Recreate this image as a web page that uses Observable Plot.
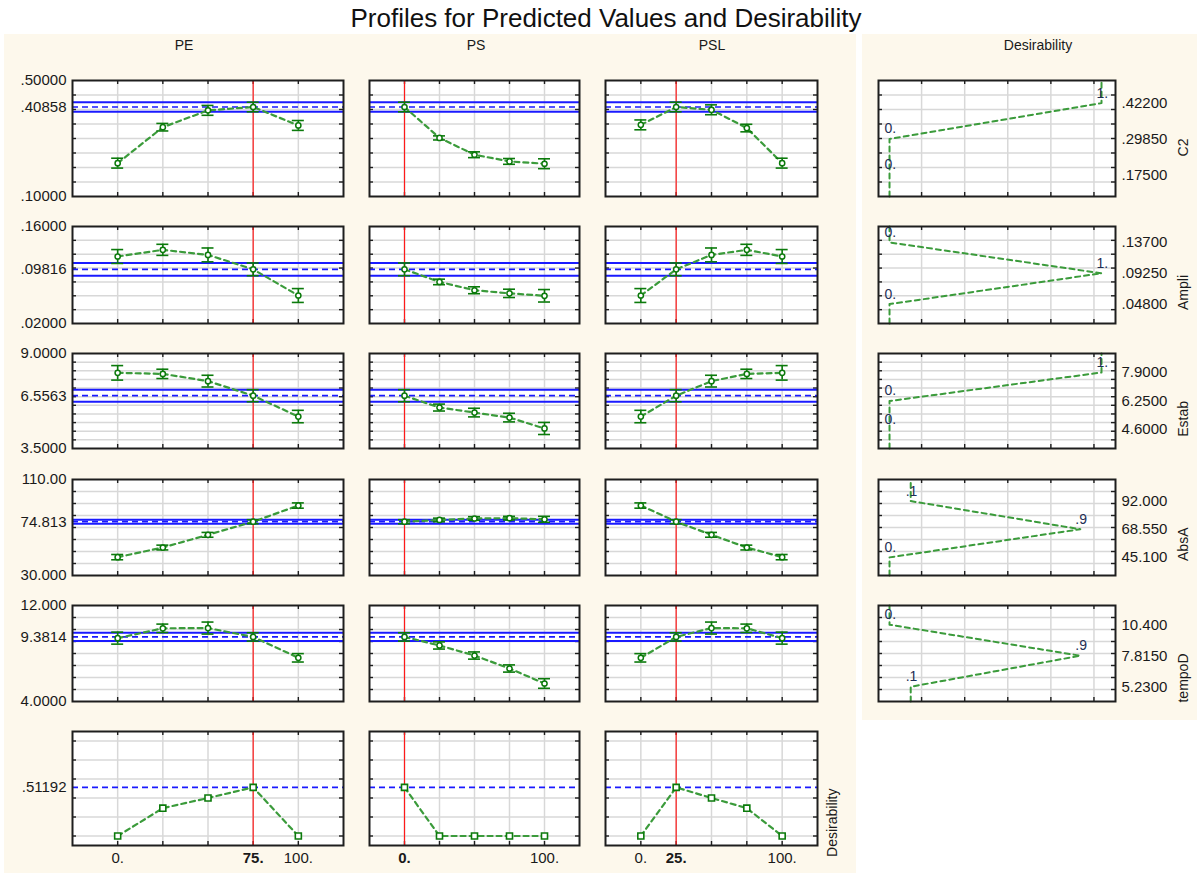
<!DOCTYPE html>
<html>
<head>
<meta charset="utf-8">
<script src="https://cdn.jsdelivr.net/npm/d3@7"></script>
<script src="https://cdn.jsdelivr.net/npm/@observablehq/plot@0.6"></script>
<style>
  body { margin: 0; background: #ffffff; font-family: Arial, "Liberation Sans", sans-serif; }
  #chart { position: relative; width: 1202px; height: 875px; overflow: hidden; background: #ffffff; }
  .bg { position: absolute; background: #fdf8ec; }
  .lbl { position: absolute; white-space: nowrap; color: #1a1a1a; transform: translate(-50%, -50%); }
</style>
</head>
<body>
<div id="chart"></div>
<script>
// ---- factors (mixture components) and their settings ----
const factors = ["PE", "PS", "PSL"];
const levels = [0, 25, 50, 75, 100];
const current = [75, 0, 25];

// ---- responses ----
const responses = ["C2", "Ampli", "Estab", "AbsA", "tempoD"];
const yMin = [0.1, 0.02, 3.5, 30, 4];
const yMax = [0.5, 0.16, 9, 110, 12];
const yStep = [0.05, 0.02, 0.5, 10, 1];
const predicted = [0.40858, 0.09816, 6.5563, 74.813, 9.3814];
const ciHalf = [0.0165, 0.0092, 0.35, 1.7, 0.35];

// predicted response at each level, one row per response
const predPE = [
  [0.215, 0.339, 0.397, 0.40858, 0.345],
  [0.1167, 0.1263, 0.119, 0.09816, 0.0604],
  [7.88, 7.82, 7.40, 6.5563, 5.35],
  [45.3, 53.3, 63.9, 74.813, 88.3],
  [9.28, 10.1, 10.12, 9.3814, 7.64]
];
const predPS = [
  [0.40858, 0.302, 0.244, 0.221, 0.213],
  [0.09816, 0.080, 0.068, 0.0635, 0.060],
  [6.5563, 5.87, 5.58, 5.29, 4.66],
  [74.813, 76.3, 77.5, 77.8, 76.8],
  [9.3814, 8.67, 7.83, 6.75, 5.5]
];
const predPSL = [
  [0.347, 0.40858, 0.399, 0.336, 0.215],
  [0.0604, 0.09816, 0.119, 0.1263, 0.1167],
  [5.35, 6.5563, 7.40, 7.82, 7.88],
  [88.3, 74.813, 63.9, 53.3, 45.3],
  [7.64, 9.3814, 10.12, 10.1, 9.28]
];

// half-width of the confidence interval at each level
const errPE = [
  [0.017, 0.013, 0.017, 0.0165, 0.017],
  [0.010, 0.008, 0.010, 0.0092, 0.010],
  [0.42, 0.27, 0.34, 0.35, 0.36],
  [2.2, 2.0, 2.0, 1.7, 2.2],
  [0.5, 0.35, 0.5, 0.35, 0.35]
];
const errPS = [
  [0.0165, 0.007, 0.010, 0.010, 0.017],
  [0.0092, 0.004, 0.005, 0.006, 0.009],
  [0.35, 0.2, 0.25, 0.25, 0.35],
  [1.7, 1.5, 1.5, 1.5, 2.5],
  [0.35, 0.3, 0.3, 0.3, 0.4]
];
const errPSL = [
  [0.017, 0.0165, 0.017, 0.013, 0.017],
  [0.010, 0.0092, 0.010, 0.008, 0.010],
  [0.36, 0.35, 0.34, 0.27, 0.42],
  [2.2, 1.7, 2.0, 2.0, 2.2],
  [0.35, 0.35, 0.5, 0.35, 0.5]
];

// overall desirability at each level
const desPE = [0, 0.293, 0.40, 0.51192, 0];
const desPS = [0.51192, 0, 0, 0, 0];
const desPSL = [0, 0.51192, 0.40, 0.293, 0];
const overallDesirability = 0.51192;

// desirability specification per response (low / medium / high)
const specLow = [0.175, 0.048, 4.6, 45.1, 5.23];
const specMed = [0.2985, 0.0925, 6.25, 68.55, 7.815];
const specHigh = [0.422, 0.137, 7.9, 92, 10.4];
const desLow = [0, 0, 0, 0, 0.1];
const desMed = [0, 1, 0, 0.9, 0.9];
const desHigh = [1, 0, 1, 0.1, 0];

const predByFactor = [predPE, predPS, predPSL];
const errByFactor = [errPE, errPS, errPSL];
const desByFactor = [desPE, desPS, desPSL];

// ---- layout of the panel frames ----
const colX = [72, 369, 605, 878];
const colW = [271, 210, 212, 237];
const rowY = [80, 226, 353, 479, 605, 731];
const rowH = [116, 97, 95, 96, 96, 114];

const FONT = "Arial, 'Liberation Sans', sans-serif";
const GRID = "#d8d8d8";
const FRAME = "#1e1e1e";
const BLUE = "#1a1aff";
const RED = "#ff1a1a";
const GREEN_LINE = "#3b9b3b";
const GREEN_MARK = "#0b7a0b";
const TEXT = "#1a1a1a";

const chart = document.getElementById("chart");

function fmtNum(v) {
  return Math.abs(v) < 1 ? v.toFixed(5).replace(/^0/, "") : v.toPrecision(5);
}
function fmtDes(d) {
  return d === 0 ? "0." : d === 1 ? "1." : String(d).replace(/^0/, "");
}
function gridOf(min, max, step) {
  const out = [];
  for (let k = 1; min + k * step < max - step / 4; k++) out.push(+(min + k * step).toFixed(6));
  return out;
}
function place(node, left, top) {
  node.style.position = "absolute";
  node.style.left = left + "px";
  node.style.top = top + "px";
  chart.appendChild(node);
}
function addDiv(cls, text, x, y, css) {
  const d = document.createElement("div");
  d.className = cls;
  d.textContent = text;
  d.style.left = x + "px";
  d.style.top = y + "px";
  Object.assign(d.style, css || {});
  chart.appendChild(d);
}
// small inward tick marks on the four edges of a frame
function edgeTicks(xs, ys, w, h) {
  const s = {stroke: FRAME, strokeWidth: 1.4};
  return [
    Plot.tickY(ys, {y: d => d, insetRight: w - 4, ...s}),
    Plot.tickY(ys, {y: d => d, insetLeft: w - 4, ...s}),
    Plot.tickX(xs, {x: d => d, insetBottom: h - 4, ...s}),
    Plot.tickX(xs, {x: d => d, insetTop: h - 4, ...s})
  ];
}

// ---- backgrounds, title, headers ----
[[4, 34, 852, 839], [862, 34, 335, 686]].forEach(([x, y, w, h]) => {
  const d = document.createElement("div");
  d.className = "bg";
  Object.assign(d.style, {left: x + "px", top: y + "px", width: w + "px", height: h + "px"});
  chart.appendChild(d);
});
addDiv("lbl", "Profiles for Predicted Values and Desirability", 606, 18, {fontSize: "26px", color: "#111"});
const headerX = [184, 476, 712, 1038];
[...factors, "Desirability"].forEach((t, i) => addDiv("lbl", t, headerX[i], 45, {fontSize: "14px"}));

// ---- factor profile panels (5 responses + desirability row) ----
function factorPanel(r, f) {
  const isDes = r === responses.length;
  const w = colW[f], h = rowH[r];
  const ml = f === 0 ? 72 : 6;
  const mr = (f === 2 && isDes) ? 34 : 6;
  const mt = 4, mb = isDes ? 32 : 4;
  const yDom = isDes ? [-0.1, 1.1] : [yMin[r], yMax[r]];
  const gy = isDes ? gridOf(-0.2, 1.2, 0.2) : gridOf(yMin[r], yMax[r], yStep[r]);
  const vals = isDes ? desByFactor[f] : predByFactor[f][r];
  const errs = isDes ? null : errByFactor[f][r];
  const data = levels.map((x, i) => ({x, v: vals[i], e: errs ? errs[i] : 0}));
  const ref = isDes ? overallDesirability : predicted[r];

  const marks = [
    Plot.frame({fill: "white", stroke: "none"}),
    Plot.ruleX(levels, {stroke: GRID, strokeWidth: 1.5}),
    Plot.ruleY(gy, {stroke: GRID, strokeWidth: 1.5}),
    ...edgeTicks(levels, gy, w, h)
  ];
  if (!isDes) {
    marks.push(Plot.ruleY([ref - ciHalf[r], ref + ciHalf[r]], {stroke: BLUE, strokeWidth: 2}));
  }
  marks.push(
    Plot.ruleY([ref], {stroke: BLUE, strokeWidth: 1.7, strokeDasharray: "6,4"}),
    Plot.ruleX([current[f]], {stroke: RED, strokeWidth: 1.2}),
    Plot.line(data, {x: "x", y: "v", stroke: GREEN_LINE, strokeWidth: 2.2, strokeDasharray: "5,4"})
  );
  if (isDes) {
    marks.push(Plot.dot(data, {x: "x", y: "v", symbol: "square", r: 3.4, stroke: GREEN_MARK, fill: "white", strokeWidth: 1.6}));
  } else {
    const cap = {stroke: GREEN_MARK, strokeWidth: 1.6, insetLeft: -6, insetRight: -6};
    marks.push(
      Plot.ruleX(data, {x: "x", y1: d => d.v - d.e, y2: d => d.v + d.e, stroke: GREEN_MARK, strokeWidth: 1.6}),
      Plot.ruleY(data, {y: d => d.v + d.e, x1: "x", x2: "x", ...cap}),
      Plot.ruleY(data, {y: d => d.v - d.e, x1: "x", x2: "x", ...cap}),
      Plot.dot(data, {x: "x", y: "v", r: 2.6, stroke: GREEN_MARK, fill: "white", strokeWidth: 1.5})
    );
  }
  marks.push(Plot.frame({stroke: FRAME, strokeWidth: 2}));

  // value labels on the left of the first column
  if (f === 0) {
    const ticks = isDes ? [overallDesirability] : [yMin[r], predicted[r], yMax[r]];
    marks.push(Plot.text(ticks, {y: d => d, text: d => fmtNum(d), frameAnchor: "left", textAnchor: "end", dx: -6, fontSize: 15, fill: TEXT}));
  }
  if (isDes) {
    const xl = Array.from(new Set([0, current[f], 100])).sort((a, b) => a - b);
    const xText = {x: d => d, text: d => d + ".", frameAnchor: "bottom", lineAnchor: "top", dy: 7, fontSize: 15, fill: TEXT};
    marks.push(
      Plot.text(xl.filter(d => d !== current[f]), xText),
      Plot.text([current[f]], {...xText, fontWeight: "bold"})
    );
    if (f === 2) {
      marks.push(Plot.text(["Desirability"], {frameAnchor: "right", dx: 15, rotate: -90, fontSize: 14, fill: TEXT}));
    }
  }

  const svg = Plot.plot({
    width: w + ml + mr, height: h + mt + mb,
    marginLeft: ml, marginRight: mr, marginTop: mt, marginBottom: mb,
    x: {domain: [-25, 125], axis: null},
    y: {domain: yDom, axis: null},
    style: {background: "transparent", overflow: "visible", fontFamily: FONT},
    marks
  });
  place(svg, colX[f] - ml, rowY[r] - mt);
}

// ---- desirability function panels (right column) ----
const desDomain = [-0.052, 1.066];
const desGrid = [1, 2, 3, 4, 5].map(k => desDomain[0] + k * (desDomain[1] - desDomain[0]) / 5.5);

function desirabilityPanel(r) {
  const w = colW[3], h = rowH[r];
  const ml = 6, mr = 84, mt = 4, mb = 4;
  const gy = gridOf(yMin[r], yMax[r], yStep[r]);
  const spec = [
    {d: desLow[r], y: specLow[r]},
    {d: desMed[r], y: specMed[r]},
    {d: desHigh[r], y: specHigh[r]}
  ];
  const path = [{d: desLow[r], y: yMin[r]}, ...spec, {d: desHigh[r], y: yMax[r]}];

  const svg = Plot.plot({
    width: w + ml + mr, height: h + mt + mb,
    marginLeft: ml, marginRight: mr, marginTop: mt, marginBottom: mb,
    x: {domain: desDomain, axis: null},
    y: {domain: [yMin[r], yMax[r]], axis: null},
    style: {background: "transparent", overflow: "visible", fontFamily: FONT},
    marks: [
      Plot.frame({fill: "white", stroke: "none"}),
      Plot.ruleX(desGrid, {stroke: GRID, strokeWidth: 1.5}),
      Plot.ruleY(gy, {stroke: GRID, strokeWidth: 1.5}),
      ...edgeTicks(desGrid, gy, w, h),
      Plot.line(path, {x: "d", y: "y", stroke: GREEN_LINE, strokeWidth: 2, strokeDasharray: "5,4"}),
      Plot.text(spec, {x: "d", y: "y", text: s => fmtDes(s.d), textAnchor: "start", dx: -5, dy: -10, fontSize: 14, fill: "#1f2f55"}),
      Plot.frame({stroke: FRAME, strokeWidth: 2}),
      Plot.text(spec, {y: "y", text: s => fmtNum(s.y), frameAnchor: "right", textAnchor: "start", dx: 6, fontSize: 15, fill: TEXT}),
      Plot.text([responses[r]], {frameAnchor: "right", dx: 68, rotate: -90, fontSize: 14, fill: TEXT})
    ]
  });
  place(svg, colX[3] - ml, rowY[r] - mt);
}

for (let r = 0; r <= responses.length; r++) {
  for (let f = 0; f < factors.length; f++) factorPanel(r, f);
  if (r < responses.length) desirabilityPanel(r);
}
</script>
</body>
</html>
